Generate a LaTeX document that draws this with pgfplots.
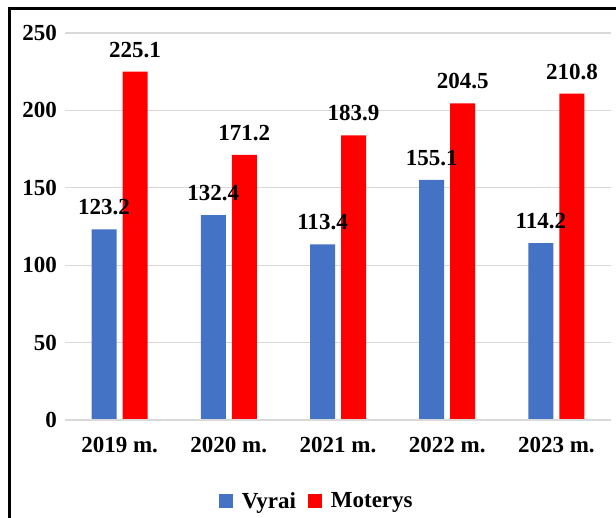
\documentclass[border=0pt]{standalone}
\usepackage{pgfplots}
\pgfplotsset{compat=1.18}
\usepackage{fontspec}
\setmainfont{Liberation Serif}
\definecolor{cblue}{HTML}{4472C4}
\definecolor{cred}{HTML}{FF0000}
\definecolor{cgrid}{HTML}{D9D9D9}
\newcommand{\lbl}{\bfseries\fontsize{23bp}{27bp}\selectfont}
\begin{document}
\begin{tikzpicture}[x=1bp,y=1bp]
\useasboundingbox (0,0) rectangle (616,518);
\draw[line width=2.5bp] (9.3,-5) -- (9.3,509.7) -- (625,509.7);
\begin{axis}[
  at={(65bp,98bp)}, anchor=south west,
  scale only axis, width=546bp, height=387bp,
  xmin=-0.5, xmax=4.5, ymin=0, ymax=250,
  ytick={0,50,100,150,200,250},
  xtick={0,1,2,3,4},
  xticklabels={2019 m.,2020 m.,2021 m.,2022 m.,2023 m.},
  axis line style={draw=none},
  tick style={draw=none},
  ymajorgrids, grid style={draw=cgrid, line width=1.3bp},
  /pgf/number format/assume math mode=true,
  ticklabel style={font=\lbl},
  yticklabel style={inner sep=0pt, xshift=-8bp},
  xticklabel style={inner sep=0pt, anchor=north, yshift=-13bp},
  ybar, bar width=25bp,
  nodes near coords,
  nodes near coords style={font=\lbl, anchor=south, inner sep=0pt, yshift=14bp,
    /pgf/number format/fixed, /pgf/number format/precision=1, /pgf/number format/fixed zerofill},
  legend columns=2,
  legend style={at={(axis description cs:0.461,-0.209)}, anchor=center, draw=none, font=\lbl,
    /tikz/every odd column/.append style={column sep=7bp},
    /tikz/every even column/.append style={column sep=10bp}},
  legend image code/.code={\fill[#1] (0bp,-7bp) rectangle (14bp,7bp);},
]
\addplot[fill=cblue, draw=none, bar shift=-15.5bp] coordinates {(0,123.2) (1,132.4) (2,113.4) (3,155.1) (4,114.2)};
\addlegendentry{Vyrai}
\addplot[fill=cred, draw=none, bar shift=15.5bp] coordinates {(0,225.1) (1,171.2) (2,183.9) (3,204.5) (4,210.8)};
\addlegendentry{Moterys}
\draw[cgrid, line width=2bp] (axis cs:-0.5,0) -- (axis cs:4.5,0);
\end{axis}
\end{tikzpicture}
\end{document}
